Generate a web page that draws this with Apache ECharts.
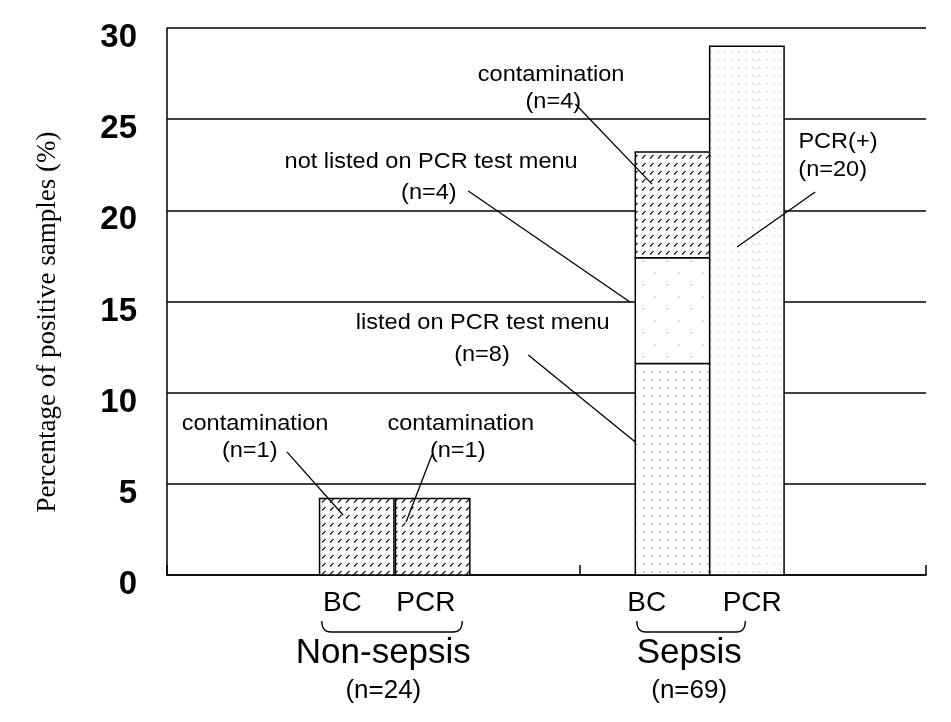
<!DOCTYPE html>
<html>
<head>
<meta charset="utf-8">
<script src="https://cdn.jsdelivr.net/npm/echarts@6/dist/echarts.min.js"></script>
<style>html,body{margin:0;padding:0;background:#fff}#c{width:951px;height:722px}</style>
</head>
<body>
<div id="c"></div>
<script>
// ---------- data ----------
const categories = ['Non-sepsis', 'Sepsis'];
const groupSizes = ['(n=24)', '(n=69)'];
const methods = ['BC', 'PCR'];
const nonSepsisBC = [4.2];            // contamination
const nonSepsisPCR = [4.2];           // contamination
const sepsisBC = [11.6, 5.8, 5.8];    // listed, not listed, contamination
const sepsisPCR = [29.0];             // PCR(+)
const yTickValues = [0, 5, 10, 15, 20, 25, 30];
const yAxisTitle = 'Percentage of positive samples (%)';
const annotationTexts = [
  ['contamination', '(n=1)'],
  ['contamination', '(n=1)'],
  ['contamination', '(n=4)'],
  ['not listed on PCR test menu', '(n=4)'],
  ['listed on PCR test menu', '(n=8)'],
  ['PCR(+)', '(n=20)']
];

// ---------- layout (axis units) ----------
const BAR_W = 0.98;
const barLayout = [
  { x: 2.5,  values: nonSepsisBC,  patterns: ['contam'] },
  { x: 3.5,  values: nonSepsisPCR, patterns: ['contam'] },
  { x: 6.66, values: sepsisBC,     patterns: ['listed', 'notListed', 'contam'] },
  { x: 7.64, values: sepsisPCR,    patterns: ['pcr'] }
];
const xLabelPos = [2.31, 3.41, 6.32, 7.71];
const groupLayout = [
  { label: 2.85, brace: [2.04, 3.89] },
  { label: 6.88, brace: [6.19, 7.62] }
];
const annLayout = [
  { l1: [1.16, 8.28],  l2: [1.09, 6.80],  from: [1.58, 6.75],  to: [2.32, 3.29] },
  { l1: [3.87, 8.28],  l2: [3.83, 6.80],  from: [3.49, 6.58],  to: [3.15, 2.91] },
  { l1: [5.06, 27.40], l2: [5.09, 25.92], from: [5.38, 25.83], to: [6.39, 21.44] },
  { l1: [3.48, 22.65], l2: [3.45, 20.95], from: [3.97, 21.06], to: [6.10, 14.97] },
  { l1: [4.16, 13.82], l2: [4.15, 12.07], from: [4.76, 12.07], to: [6.17, 7.29] },
  { l1: [8.84, 23.75], l2: [8.77, 22.21], from: [8.54, 21.01], to: [7.51, 17.99] }
];

// ---------- patterns ----------
function makePattern(w, h, draw) {
  const c = document.createElement('canvas');
  c.width = w; c.height = h;
  const g = c.getContext('2d');
  g.fillStyle = '#fff'; g.fillRect(0, 0, w, h);
  draw(g);
  return { image: c, repeat: 'repeat' };
}
const patterns = {
  contam: makePattern(8, 8, g => {
    g.strokeStyle = '#111'; g.lineWidth = 1.1;
    g.beginPath(); g.moveTo(2, 6.5); g.lineTo(5.5, 3); g.stroke();
  }),
  listed: makePattern(8, 8, g => {
    g.fillStyle = '#999'; g.fillRect(3, 3, 1, 1); g.fillStyle = '#bbb'; g.fillRect(4, 4, 1, 1);
  }),
  notListed: makePattern(24, 24, g => {
    g.fillStyle = '#bbb'; g.fillRect(6, 8, 1, 1); g.fillRect(7, 9, 1, 1);
    g.fillRect(18, 20, 1, 1); g.fillRect(19, 21, 1, 1);
  }),
  pcr: makePattern(7, 8, g => {
    g.fillStyle = '#bbb'; g.fillRect(3, 3, 1, 1); g.fillStyle = '#d0d0d0'; g.fillRect(4, 4, 1, 1);
  })
};

// ---------- build rect data ----------
const rectData = [];
barLayout.forEach(b => {
  let base = 0;
  b.values.forEach((v, i) => {
    rectData.push([b.x, base, base + v, b.patterns[i]]);
    base += v;
  });
});

const FONT = '"Liberation Sans", Arial, sans-serif';
const chart = echarts.init(document.getElementById('c'));
chart.setOption({
  animation: false,
  backgroundColor: '#fff',
  grid: { left: 167, right: 25, top: 28, bottom: 147 },
  xAxis: {
    type: 'value', min: 0, max: 10,
    axisLine: { show: true, lineStyle: { color: '#000', width: 1.5 } },
    axisTick: { show: true, inside: true, length: 10, customValues: [0, 5.44, 10], lineStyle: { color: '#000', width: 1.5 } },
    axisLabel: { show: false },
    splitLine: { show: false }
  },
  yAxis: {
    type: 'value', min: 0, max: 30, interval: 5,
    axisLine: { show: true, lineStyle: { color: '#000', width: 1.5 } },
    axisTick: { show: false },
    axisLabel: { color: '#000', fontSize: 33, fontWeight: 'bold', fontFamily: FONT, margin: 30,
      verticalAlign: 'top', lineHeight: 20,
      formatter: v => (yTickValues.indexOf(v) >= 0 ? String(v) : '') },
    splitLine: { show: true, lineStyle: { color: '#000', width: 1.5 } }
  },
  graphic: [{
    type: 'text', x: 48, y: 322, rotation: Math.PI / 2,
    style: { text: yAxisTitle, fill: '#000', font: '27px "Liberation Serif", "Times New Roman", serif', align: 'center', verticalAlign: 'middle' }
  }],
  series: [
    {
      type: 'custom', z: 2, clip: false,
      data: rectData,
      encode: { x: 0, y: [1, 2] },
      renderItem: (params, api) => {
        const d = rectData[params.dataIndex];
        const p0 = api.coord([d[0] - BAR_W / 2, d[2]]);
        const p1 = api.coord([d[0] + BAR_W / 2, d[1]]);
        return {
          type: 'rect',
          shape: { x: p0[0], y: p0[1], width: p1[0] - p0[0], height: p1[1] - p0[1] },
          style: { fill: patterns[d[3]], stroke: '#000', lineWidth: 1.5 }
        };
      }
    },
    {
      type: 'custom', z: 4, clip: false, silent: true,
      data: xLabelPos.map((x, i) => [x, 0, i]),
      encode: { x: 0, y: 1 },
      renderItem: (params, api) => {
        const p = api.coord([xLabelPos[params.dataIndex], 0]);
        return { type: 'text', x: p[0], y: p[1] + 28,
          style: { text: methods[params.dataIndex % 2], fill: '#000', font: '28px ' + FONT, align: 'center', verticalAlign: 'middle' } };
      }
    },
    {
      type: 'custom', z: 4, clip: false, silent: true,
      data: annLayout.map((a, i) => [a.to[0], a.to[1], i]),
      encode: { x: 0, y: 1 },
      renderItem: (params, api) => {
        const a = annLayout[params.dataIndex];
        const t = annotationTexts[params.dataIndex];
        const f = api.coord(a.from), e = api.coord(a.to);
        const q1 = api.coord(a.l1), q2 = api.coord(a.l2);
        const ts = { fill: '#000', font: '22px ' + FONT, align: 'center', verticalAlign: 'middle' };
        return {
          type: 'group',
          children: [
            { type: 'line', shape: { x1: f[0], y1: f[1], x2: e[0], y2: e[1] }, style: { stroke: '#000', lineWidth: 1.3 } },
            { type: 'text', x: q1[0], y: q1[1], scaleX: 1.07, style: Object.assign({ text: t[0] }, ts) },
            { type: 'text', x: q2[0], y: q2[1], scaleX: 1.07, style: Object.assign({ text: t[1] }, ts) }
          ]
        };
      }
    },
    {
      type: 'custom', z: 4, clip: false, silent: true,
      data: groupLayout.map((g, i) => [g.label, 0, i]),
      encode: { x: 0, y: 1 },
      renderItem: (params, api) => {
        const g = groupLayout[params.dataIndex];
        const b0 = api.coord([g.brace[0], 0]), b1 = api.coord([g.brace[1], 0]);
        const c = api.coord([g.label, 0]);
        const top = b0[1] + 46, bot = b0[1] + 57, r = 9;
        const path = 'M' + b0[0] + ' ' + top + ' Q' + b0[0] + ' ' + bot + ' ' + (b0[0] + r) + ' ' + bot +
          ' L' + (b1[0] - r) + ' ' + bot + ' Q' + b1[0] + ' ' + bot + ' ' + b1[0] + ' ' + top;
        return {
          type: 'group',
          children: [
            { type: 'path', shape: { pathData: path }, style: { fill: 'none', stroke: '#000', lineWidth: 1.3 } },
            { type: 'text', x: c[0], y: c[1] + 78, style: { text: categories[params.dataIndex], fill: '#000', font: '35px ' + FONT, align: 'center', verticalAlign: 'middle' } },
            { type: 'text', x: c[0], y: c[1] + 116, style: { text: groupSizes[params.dataIndex], fill: '#000', font: '26px ' + FONT, align: 'center', verticalAlign: 'middle' } }
          ]
        };
      }
    }
  ]
});
</script>
</body>
</html>
